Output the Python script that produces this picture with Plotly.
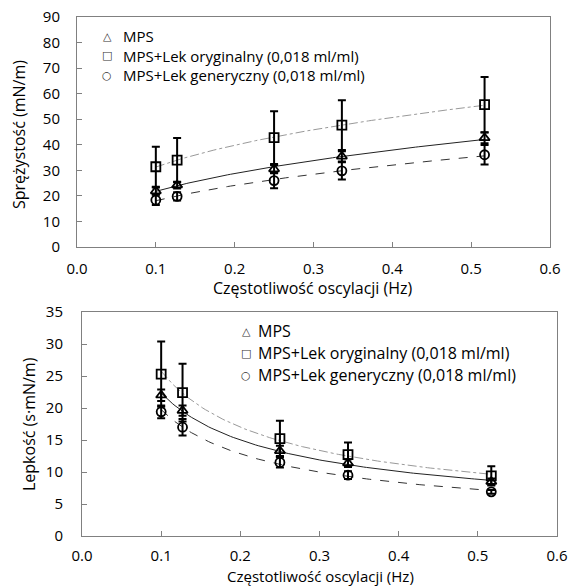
import numpy as np
import plotly.graph_objects as go

# ---- data ----
freq = [0.1, 0.127, 0.25, 0.336, 0.517]

# Top chart: Sprężystość (mN/m)
spr_mps = [21.9, 24.2, 30.5, 35.5, 42.7]
spr_mps_err = [1.4, 1.3, 1.6, 2.0, 2.1]
spr_org = [31.4, 34.0, 42.8, 47.7, 55.7]
spr_org_err = [7.8, 8.7, 10.3, 9.7, 10.8]
spr_gen = [18.4, 19.8, 26.0, 29.8, 36.1]
spr_gen_err = [2.0, 1.6, 3.0, 3.4, 3.8]

# Bottom chart: Lepkość (s·mN/m)
lep_mps = [22.0, 19.6, 13.3, 11.4, 8.5]
lep_mps_err = [0.9, 0.8, 0.8, 0.6, 0.5]
lep_org = [25.3, 22.4, 15.2, 12.7, 9.4]
lep_org_err = [5.1, 4.5, 2.8, 1.9, 1.5]
lep_gen = [19.4, 17.0, 11.5, 9.5, 6.9]
lep_gen_err = [1.0, 1.3, 0.8, 0.6, 0.3]

names = ["MPS", "MPS+Lek oryginalny (0,018 ml/ml)", "MPS+Lek generyczny (0,018 ml/ml)"]
legend_glyphs = ["△", "□", "○"]
x_ticks = [0.0, 0.1, 0.2, 0.3, 0.4, 0.5, 0.6]
x_ticktext = ["0.0", "0.1", "0.2", "0.3", "0.4", "0.5", "0.6"]

FONT = "Open Sans"
FS = 15
W, H = 568, 587

def power_fit(x, y):
    x = np.asarray(x, float); y = np.asarray(y, float)
    b, la = np.polyfit(np.log(x), np.log(y), 1)
    xs = np.linspace(x.min(), x.max(), 120)
    return xs, np.exp(la) * xs ** b

fig = go.Figure()

symbols = ["triangle-up-open", "square-open", "circle-open"]
dashes = ["solid", "dashdot", "dash"]
line_cols = ["#222222", "#999999", "#333333"]

def add_set(series, errs, xa, ya):
    for i, (y, e) in enumerate(zip(series, errs)):
        xs, ys = power_fit(freq, y)
        fig.add_trace(go.Scatter(x=xs, y=ys, mode="lines", xaxis=xa, yaxis=ya,
                                 line=dict(color=line_cols[i], width=1, dash=dashes[i]),
                                 showlegend=False, hoverinfo="skip"))
    for i, (y, e) in enumerate(zip(series, errs)):
        fig.add_trace(go.Scatter(x=freq, y=y, mode="markers", name=names[i], xaxis=xa, yaxis=ya,
                                 showlegend=False,
                                 marker=dict(symbol=symbols[i], size=9, color="black",
                                             line=dict(color="black", width=1.8)),
                                 error_y=dict(type="data", array=e, color="black",
                                              thickness=2, width=4)))

add_set([spr_mps, spr_org, spr_gen], [spr_mps_err, spr_org_err, spr_gen_err], "x", "y")
add_set([lep_mps, lep_org, lep_gen], [lep_mps_err, lep_org_err, lep_gen_err], "x2", "y2")

def px_x(p): return p / W
def px_y(p): return 1 - p / H

axis_common = dict(showline=True, linecolor="#808080", linewidth=1, mirror=True,
                   ticks="inside", ticklen=5, tickcolor="#808080", showgrid=False,
                   zeroline=False, automargin=False,
                   tickfont=dict(family=FONT, size=FS, color="black"))

annotations = []
def ann(text, x, y, size=FS, angle=0, xanchor="center", color="black", family=FONT):
    annotations.append(dict(text=text, x=px_x(x), y=px_y(y), xref="paper", yref="paper",
                            showarrow=False, textangle=angle, xanchor=xanchor,
                            yanchor="middle", font=dict(family=family, size=size, color=color)))

ann("Sprężystość (mN/m)", 19, 135, size=16, angle=-90)
ann("Częstotliwość oscylacji (Hz)", 313, 288, size=16)
ann("Lepkość (s·mN/m)", 29, 424, size=16, angle=-90)
ann("Częstotliwość oscylacji (Hz)", 320, 576, size=15)

# legends (symbol glyph + label), as in the reference
for (sx, tx, rows, fs) in [(107, 121, [36, 55.5, 75], 15), (246, 256, [331, 353, 375], 16)]:
    for i in range(3):
        ann(legend_glyphs[i], sx, rows[i], size=11, color="#333333", family="DejaVu Sans")
        ann(names[i], tx, rows[i], size=fs, xanchor="left")

fig.update_layout(
    width=W, height=H, margin=dict(l=0, r=0, t=0, b=0, autoexpand=False),
    paper_bgcolor="white", plot_bgcolor="white", showlegend=False,
    font=dict(family=FONT, size=FS, color="black"),
    xaxis=dict(domain=[px_x(77), px_x(550)], range=[0, 0.6], tickvals=x_ticks,
               ticktext=x_ticktext, anchor="y", ticklabelstandoff=8, **axis_common),
    yaxis=dict(domain=[px_y(247), px_y(17)], range=[0, 90], dtick=10, anchor="x",
               ticklabelstandoff=13, **axis_common),
    xaxis2=dict(domain=[px_x(82), px_x(557)], range=[0, 0.6], tickvals=x_ticks,
                ticktext=x_ticktext, anchor="y2", ticklabelstandoff=6, **axis_common),
    yaxis2=dict(domain=[px_y(536), px_y(312)], range=[0, 35], dtick=5, anchor="x2",
                ticklabelstandoff=15, **axis_common),
    annotations=annotations,
)

fig.write_html("out.html", config={"displayModeBar": False},
               post_script="document.body.style.margin='0';document.body.style.overflow='hidden';")
